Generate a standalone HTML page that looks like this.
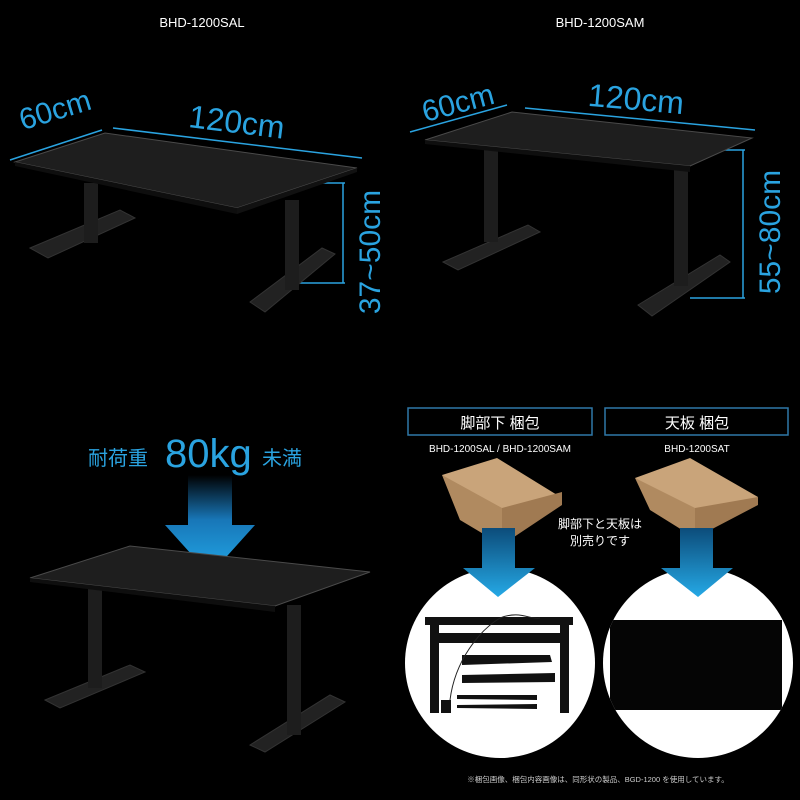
<!DOCTYPE html>
<html><head><meta charset="utf-8"><style>
html,body{margin:0;padding:0;background:#000;}
svg{display:block}
text{font-family:"Liberation Sans","Noto Sans CJK JP",sans-serif;}
</style></head><body>
<svg width="800" height="800" viewBox="0 0 800 800" xmlns="http://www.w3.org/2000/svg">
<defs>
<linearGradient id="ag" x1="0" y1="0" x2="0" y2="1"><stop offset="0" stop-color="#000"/><stop offset="0.45" stop-color="#1877b8"/><stop offset="1" stop-color="#22a8e8"/></linearGradient>
<linearGradient id="ag2" x1="0" y1="0" x2="0" y2="1"><stop offset="0" stop-color="#0c4c7a"/><stop offset="1" stop-color="#25a9e6"/></linearGradient>
<clipPath id="c1"><circle cx="500" cy="663" r="95"/></clipPath>
<clipPath id="c2"><circle cx="698" cy="663" r="95"/></clipPath>
</defs>
<rect width="800" height="800" fill="#000"/>

<!-- Top left -->
<text x="202" y="27" fill="#fff" font-size="13" text-anchor="middle">BHD-1200SAL</text>
<g stroke="#2aa3e0" stroke-width="1.5" fill="none">
<line x1="10" y1="160" x2="102" y2="130"/><line x1="113" y1="128" x2="362" y2="158"/>
<line x1="312" y1="183" x2="345" y2="183"/><line x1="300" y1="283" x2="345" y2="283"/><line x1="343" y1="183" x2="343" y2="283"/>
</g>
<text x="55" y="120" fill="#2aa3e0" font-size="30" text-anchor="middle" transform="rotate(-17 55 110)">60cm</text>
<text x="237" y="133" fill="#2aa3e0" font-size="32" text-anchor="middle" transform="rotate(7 237 120)">120cm</text>
<text x="0" y="0" fill="#2aa3e0" font-size="30" text-anchor="middle" transform="translate(380,252) rotate(-90)">37~50cm</text>
<g>
<polygon points="30,248 120,210 135,218 48,258" fill="#222" stroke="#333"/>
<polygon points="250,302 322,248 335,254 265,312" fill="#222" stroke="#333"/>
<rect x="84" y="183" width="14" height="60" fill="#1d1d1d"/>
<rect x="285" y="200" width="14" height="90" fill="#1d1d1d"/>
<polygon points="15,162 105,133 357,168 237,208" fill="#1e1e1e" stroke="#4a4a4a"/>
<polygon points="15,162 237,208 237,214 15,166" fill="#0e0e0e"/>
<polygon points="237,208 357,168 357,172 237,214" fill="#111"/>
</g>

<!-- Top right -->
<text x="600" y="27" fill="#fff" font-size="13" text-anchor="middle">BHD-1200SAM</text>
<g stroke="#2aa3e0" stroke-width="1.5" fill="none">
<line x1="410" y1="132" x2="507" y2="105"/><line x1="525" y1="108" x2="755" y2="130"/>
<line x1="712" y1="150" x2="745" y2="150"/><line x1="690" y1="298" x2="745" y2="298"/><line x1="743" y1="150" x2="743" y2="298"/>
</g>
<text x="458" y="113" fill="#2aa3e0" font-size="30" text-anchor="middle" transform="rotate(-15 458 103)">60cm</text>
<text x="636" y="110" fill="#2aa3e0" font-size="32" text-anchor="middle" transform="rotate(5 636 100)">120cm</text>
<text x="0" y="0" fill="#2aa3e0" font-size="30" text-anchor="middle" transform="translate(780,232) rotate(-90)">55~80cm</text>
<g>
<polygon points="443,262 528,225 540,232 458,270" fill="#222" stroke="#333"/>
<polygon points="638,305 720,255 730,262 652,316" fill="#222" stroke="#333"/>
<rect x="484" y="150" width="14" height="92" fill="#1d1d1d"/>
<rect x="674" y="168" width="14" height="118" fill="#1d1d1d"/>
<polygon points="425,140 512,112 752,138 690,166" fill="#1e1e1e" stroke="#4a4a4a"/>
<polygon points="425,140 690,166 690,172 425,144" fill="#0e0e0e"/>
</g>

<!-- Bottom left -->
<text x="88" y="465" fill="#2aa3e0" font-size="20">耐荷重</text>
<text x="165" y="467" fill="#2aa3e0" font-size="40">80kg</text>
<text x="262" y="465" fill="#2aa3e0" font-size="20">未満</text>
<polygon points="188,475 232,475 232,525 255,525 210,575 165,525 188,525" fill="url(#ag)"/>
<g>
<polygon points="45,700 130,665 145,672 60,708" fill="#222" stroke="#333"/>
<polygon points="250,745 330,695 345,702 265,752" fill="#222" stroke="#333"/>
<rect x="88" y="585" width="14" height="103" fill="#1d1d1d"/>
<rect x="287" y="605" width="14" height="130" fill="#1d1d1d"/>
<polygon points="30,578 130,546 370,572 275,606" fill="#1e1e1e" stroke="#4a4a4a"/>
<polygon points="30,578 275,606 275,612 30,582" fill="#0e0e0e"/>
</g>

<!-- Bottom right -->
<rect x="408" y="408" width="184" height="27" fill="none" stroke="#2f78a8" stroke-width="1.5"/>
<rect x="605" y="408" width="183" height="27" fill="none" stroke="#2f78a8" stroke-width="1.5"/>
<text x="500" y="428" fill="#fff" font-size="15" text-anchor="middle">脚部下 梱包</text>
<text x="697" y="428" fill="#fff" font-size="15" text-anchor="middle">天板 梱包</text>
<text x="500" y="452" fill="#fff" font-size="10" text-anchor="middle">BHD-1200SAL / BHD-1200SAM</text>
<text x="697" y="452" fill="#fff" font-size="10" text-anchor="middle">BHD-1200SAT</text>
<polygon points="442,475 497,458 562,498 502,528 460,500" fill="#c9a47a"/>
<polygon points="442,475 502,508 502,545 460,520" fill="#b08a60"/>
<polygon points="502,508 562,492 562,505 502,545" fill="#a07a52"/>
<polygon points="635,478 690,458 758,497 695,525" fill="#c9a47a"/>
<polygon points="635,478 695,508 695,538 650,510" fill="#b08a60"/>
<polygon points="695,508 758,497 758,505 695,538" fill="#a07a52"/>
<text x="600" y="528" fill="#fff" font-size="12" text-anchor="middle">脚部下と天板は</text>
<text x="600" y="545" fill="#fff" font-size="12" text-anchor="middle">別売りです</text>
<circle cx="500" cy="663" r="95" fill="#fff"/>
<circle cx="698" cy="663" r="95" fill="#fff"/>
<polygon points="482,528 515,528 515,568 535,568 498,597 463,568 482,568" fill="url(#ag2)"/>
<polygon points="680,528 713,528 713,568 733,568 698,597 661,568 680,568" fill="url(#ag2)"/>
<g clip-path="url(#c1)" fill="#111">
<rect x="425" y="617" width="148" height="8"/>
<rect x="430" y="620" width="9" height="93"/>
<rect x="560" y="620" width="9" height="93"/>
<rect x="437" y="633" width="126" height="10"/>
<polygon points="462,655 550,655 552,662 462,665"/>
<polygon points="462,675 555,673 555,682 462,683"/>
<polygon points="457,695 537,695 537,700 457,699"/>
<polygon points="457,705 537,704 537,709 457,708"/>
<rect x="441" y="700" width="10" height="13"/>
<path d="M450,700 C455,660 480,630 500,618 C520,610 530,620 540,618" stroke="#222" fill="none"/>
</g>
<rect x="610" y="620" width="172" height="90" fill="#050505" clip-path="url(#c2)"/>
<text x="598" y="782" fill="#ccc" font-size="7.5" text-anchor="middle">※梱包画像、梱包内容画像は、同形状の製品、BGD-1200 を使用しています。</text>
</svg>
</body></html>
